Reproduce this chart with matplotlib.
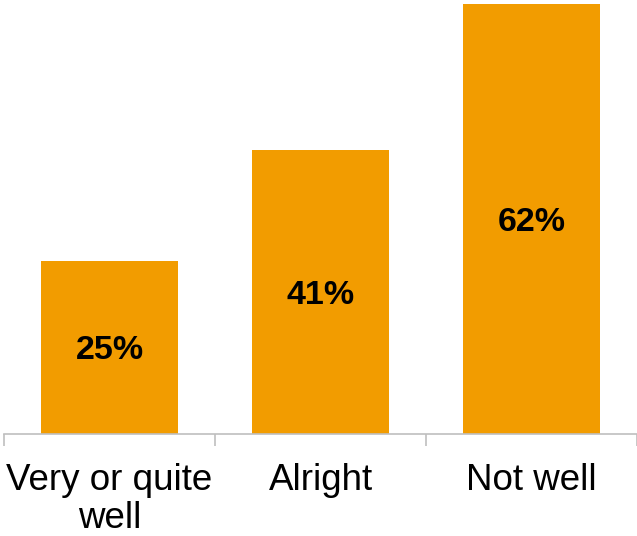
import matplotlib.pyplot as plt
from matplotlib.ticker import FixedLocator

categories = ['Very or quite\nwell', 'Alright', 'Not well']
values = [25, 41, 62]

plt.rcParams['font.family'] = ['Liberation Sans', 'DejaVu Sans']

fig = plt.figure(figsize=(6.37, 5.36), dpi=100)
ax = fig.add_axes([4 / 637, 102 / 536, 633 / 637, 434 / 536])

x = range(len(categories))
bars = ax.bar(x, values, width=0.645, color='#F29C00')

for b, v in zip(bars, values):
    ax.text(b.get_x() + b.get_width() / 2, v / 2, '%d%%' % v,
            ha='center', va='center_baseline', fontsize=24.5, fontweight='bold', color='black')

ax.set_xlim(-0.5, len(categories) - 0.5)
ax.set_ylim(0, 62.6)

for s in ['top', 'right', 'left']:
    ax.spines[s].set_visible(False)
ax.spines['bottom'].set_color('#BFBFBF')
ax.spines['bottom'].set_linewidth(1.2)

ax.set_yticks([])
ax.set_xticks(list(x))
ax.set_xticklabels(categories, fontsize=26.5, linespacing=1.12)
ax.tick_params(axis='x', which='major', length=0, pad=21)
ax.xaxis.set_minor_locator(FixedLocator([-0.5, 0.5, 1.5, 2.5]))
ax.tick_params(axis='x', which='minor', length=8.5, width=1.2, color='#BFBFBF')

fig.savefig('out.png', dpi=100)
